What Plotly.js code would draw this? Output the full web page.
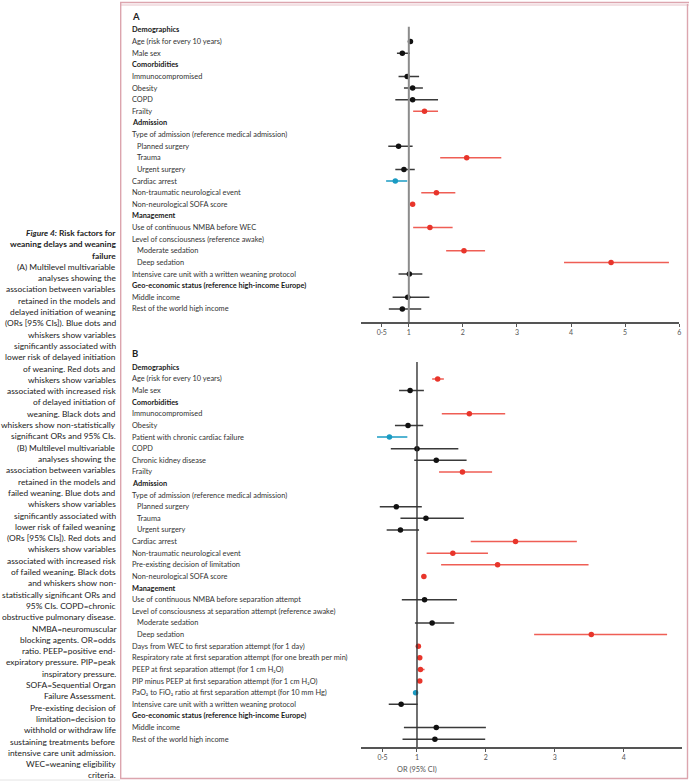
<!DOCTYPE html>
<html>
<head>
<meta charset="utf-8">
<script src="https://cdn.plot.ly/plotly-3.0.1.min.js"></script>
<style>html,body{margin:0;padding:0;background:#fff;}#chart{width:693px;height:782px;}</style>
</head>
<body>
<div id="chart"></div>
<script>
// ---------- Panel A data (delayed initiation of weaning) ----------
const labelsA = [
  "Demographics",
  "Age (risk for every 10 years)",
  "Male sex",
  "Comorbidities",
  "Immunocompromised",
  "Obesity",
  "COPD",
  "Frailty",
  "Admission",
  "Type of admission (reference medical admission)",
  "Planned surgery",
  "Trauma",
  "Urgent surgery",
  "Cardiac arrest",
  "Non-traumatic neurological event",
  "Non-neurological SOFA score",
  "Management",
  "Use of continuous NMBA before WEC",
  "Level of consciousness (reference awake)",
  "Moderate sedation",
  "Deep sedation",
  "Intensive care unit with a written weaning protocol",
  "Geo-economic status (reference high-income Europe)",
  "Middle income",
  "Rest of the world high income"
];
// h = section header, n = item, i = sub-item
const levelA = ["h","n","n","h","n","n","n","n","h","n","i","i","i","n","n","n","h","n","n","i","i","n","h","n","n"];
const orA = [null,1.03,0.88,null,0.97,1.07,1.07,1.29,null,null,0.81,2.07,0.91,0.75,1.51,1.07,null,1.39,null,2.02,4.74,1.01,null,0.98,0.88];
const loA = [null,1.00,0.78,null,0.81,0.91,0.75,1.08,null,null,0.62,1.58,0.75,0.58,1.23,1.05,null,1.08,null,1.69,3.87,0.81,null,0.70,0.63];
const hiA = [null,1.06,1.02,null,1.19,1.26,1.54,1.54,null,null,1.07,2.71,1.11,0.97,1.86,1.09,null,1.81,null,2.41,5.81,1.25,null,1.38,1.23];
// r = increased risk, b = lower risk, k = not significant
const sigA = [null,"k","k",null,"k","k","k","r",null,null,"k","r","k","b","r","r",null,"r",null,"r","r","k",null,"k","k"];
const tickValsA = [0.5,1,2,3,4,5,6];
const tickTextA = ["0·5","1","2","3","4","5","6"];

// ---------- Panel B data (failed weaning) ----------
const labelsB = [
  "Demographics",
  "Age (risk for every 10 years)",
  "Male sex",
  "Comorbidities",
  "Immunocompromised",
  "Obesity",
  "Patient with chronic cardiac failure",
  "COPD",
  "Chronic kidney disease",
  "Frailty",
  "Admission",
  "Type of admission (reference medical admission)",
  "Planned surgery",
  "Trauma",
  "Urgent surgery",
  "Cardiac arrest",
  "Non-traumatic neurological event",
  "Pre-existing decision of limitation",
  "Non-neurological SOFA score",
  "Management",
  "Use of continuous NMBA before separation attempt",
  "Level of consciousness at separation attempt (reference awake)",
  "Moderate sedation",
  "Deep sedation",
  "Days from WEC to first separation attempt (for 1 day)",
  "Respiratory rate at first separation attempt (for one breath per min)",
  "PEEP at first separation attempt (for 1 cm H₂O)",
  "PIP minus PEEP at first separation attempt (for 1 cm H₂O)",
  "PaO₂ to FiO₂ ratio at first separation attempt (for 10 mm Hg)",
  "Intensive care unit with a written weaning protocol",
  "Geo-economic status (reference high-income Europe)",
  "Middle income",
  "Rest of the world high income"
];
const levelB = ["h","n","n","h","n","n","n","n","n","n","h","n","i","i","i","n","n","n","n","h","n","n","i","i","n","n","n","n","n","n","h","n","n"];
const orB = [null,1.30,0.90,null,1.76,0.87,0.60,1.00,1.28,1.66,null,null,0.70,1.13,0.76,2.43,1.52,2.17,1.10,null,1.11,null,1.22,3.53,1.02,1.04,1.05,1.04,0.98,0.77,null,1.28,1.26];
const loB = [null,1.22,0.74,null,1.36,0.68,0.42,0.62,0.96,1.32,null,null,0.46,0.76,0.56,1.78,1.14,1.35,1.07,null,0.78,null,0.97,2.70,1.01,1.03,1.01,1.02,0.97,0.59,null,0.81,0.79];
const hiB = [null,1.39,1.10,null,2.28,1.09,0.86,1.60,1.72,2.09,null,null,1.07,1.68,1.03,3.32,2.03,3.49,1.13,null,1.58,null,1.54,4.63,1.04,1.05,1.11,1.06,0.99,1.01,null,2.00,1.99];
const sigB = [null,"r","k",null,"r","k","b","k","k","r",null,null,"k","k","k","r","r","r","r",null,"k",null,"k","r","r","r","r","r","b","k",null,"k","k"];
const tickValsB = [0.5,1,2,3,4];
const tickTextB = ["0·5","1","2","3","4"];

const captionLines = [
  "<b><i>Figure 4:</i> Risk factors for</b>",
  "<b>weaning delays and weaning</b>",
  "<b>failure</b>",
  "(A) Multilevel multivariable",
  "analyses showing the",
  "association between variables",
  "retained in the models and",
  "delayed initiation of weaning",
  "(ORs [95% CIs]). Blue dots and",
  "whiskers show variables",
  "significantly associated with",
  "lower risk of delayed initiation",
  "of weaning. Red dots and",
  "whiskers show variables",
  "associated with increased risk",
  "of delayed initiation of",
  "weaning. Black dots and",
  "whiskers show non-statistically",
  "significant ORs and 95% CIs.",
  "(B) Multilevel multivariable",
  "analyses showing the",
  "association between variables",
  "retained in the models and",
  "failed weaning. Blue dots and",
  "whiskers show variables",
  "significantly associated with",
  "lower risk of failed weaning",
  "(ORs [95% CIs]). Red dots and",
  "whiskers show variables",
  "associated with increased risk",
  "of failed weaning. Black dots",
  "and whiskers show non-",
  "statistically significant ORs and",
  "95% CIs. COPD=chronic",
  "obstructive pulmonary disease.",
  "NMBA=neuromuscular",
  "blocking agents. OR=odds",
  "ratio. PEEP=positive end-",
  "expiratory pressure. PIP=peak",
  "inspiratory pressure.",
  "SOFA=Sequential Organ",
  "Failure Assessment.",
  "Pre-existing decision of",
  "limitation=decision to",
  "withhold or withdraw life",
  "sustaining treatments before",
  "intensive care unit admission.",
  "WEC=weaning eligibility",
  "criteria."
];

// ---------- styling / layout ----------
const W = 693, H = 782;
const px = v => v / W;
const py = v => 1 - v / H;
const FONT = "Lato, 'Open Sans', sans-serif";
const colors = {
  r: {dot: "#e8352b", line: "#ef5e55"},
  b: {dot: "#1a9bc3", line: "#1a9bc3"},
  k: {dot: "#111111", line: "#3a3a3a"}
};

function panelTraces(orv, lo, hi, sig, xa, ya) {
  const out = [];
  ["k","r","b"].forEach(c => {
    const xs = [], ys = [], ep = [], em = [];
    orv.forEach((v, i) => {
      if (v !== null && sig[i] === c) {
        xs.push(v); ys.push(i); ep.push(hi[i] - v); em.push(v - lo[i]);
      }
    });
    out.push({
      type: "scatter", mode: "markers", x: xs, y: ys, xaxis: xa, yaxis: ya,
      marker: {color: colors[c].dot, size: 5.5},
      error_x: {type: "data", symmetric: false, array: ep, arrayminus: em,
                color: colors[c].line, thickness: 1.5, width: 0},
      hoverinfo: "skip", showlegend: false, cliponaxis: false
    });
  });
  return out;
}

const data = [
  ...panelTraces(orA, loA, hiA, sigA, "x", "y"),
  ...panelTraces(orB, loB, hiB, sigB, "x2", "y2")
];

const annotations = [];
function rowLabels(labels, level, yref) {
  labels.forEach((t, i) => {
    const lv = level[i];
    annotations.push({
      xref: "paper", yref: yref, x: px(lv === "i" ? 134.5 : 129.5), y: i,
      xanchor: "left", yanchor: "middle", showarrow: false,
      text: lv === "h" ? "<b>" + t + "</b>" : t,
      font: {family: FONT, size: 7.4, color: lv === "h" ? "#1a1a1a" : "#333333"}
    });
  });
}
rowLabels(labelsA, levelA, "y");
rowLabels(labelsB, levelB, "y2");

annotations.push({xref: "paper", yref: "paper", x: px(129.5), y: py(16.5), xanchor: "left", yanchor: "middle",
  showarrow: false, text: "<b>A</b>", font: {family: FONT, size: 9.5, color: "#222"}});
annotations.push({xref: "paper", yref: "paper", x: px(129.5), y: py(353.5), xanchor: "left", yanchor: "middle",
  showarrow: false, text: "<b>B</b>", font: {family: FONT, size: 9.5, color: "#222"}});
annotations.push({xref: "x2", yref: "paper", x: 1, y: py(769.5), xanchor: "center", yanchor: "middle",
  showarrow: false, text: "OR (95% CI)", font: {family: FONT, size: 7.4, color: "#555"}});

captionLines.forEach((t, i) => {
  annotations.push({xref: "paper", yref: "paper", x: px(117.5), y: py(233 + i * 11.3),
    xanchor: "right", yanchor: "middle", showarrow: false, text: t,
    font: {family: FONT, size: 8.4, color: "#222"}});
});

const pink = "#dca5ae";
const shapes = [
  // reference lines at OR = 1
  {type: "line", xref: "x", yref: "y", x0: 1, x1: 1, y0: -0.28, y1: 25.12, line: {color: "#8c8c8c", width: 2}},
  {type: "line", xref: "x2", yref: "y2", x0: 1, x1: 1, y0: -0.45, y1: 32.70, line: {color: "#333", width: 1.4}},
  // frame
  {type: "line", xref: "paper", yref: "paper", x0: px(120), x1: px(689), y0: py(2.5), y1: py(2.5), line: {color: pink, width: 1.5}},
  {type: "line", xref: "paper", yref: "paper", x0: px(120), x1: px(689), y0: py(5), y1: py(5), line: {color: "#e8c3c9", width: 1.2}},
  {type: "line", xref: "paper", yref: "paper", x0: px(120.7), x1: px(120.7), y0: py(2), y1: py(778.5), line: {color: pink, width: 1.4}},
  {type: "line", xref: "paper", yref: "paper", x0: px(687.5), x1: px(687.5), y0: py(4), y1: py(778.5), line: {color: pink, width: 1.4}},
  {type: "line", xref: "paper", yref: "paper", x0: px(120), x1: px(688), y0: py(778.5), y1: py(778.5), line: {color: pink, width: 1.4}},
  {type: "line", xref: "paper", yref: "paper", x0: px(0), x1: px(120), y0: py(780), y1: py(780), line: {color: "#e4e4e4", width: 1}}
];

const xCommon = {
  showgrid: false, zeroline: false, showline: true, linecolor: "#555", linewidth: 1.5,
  ticks: "outside", ticklen: 3, tickwidth: 1, tickcolor: "#555",
  tickmode: "array",
  tickfont: {family: FONT, size: 7, color: "#555"}, fixedrange: true
};
const yCommon = {visible: false, showgrid: false, zeroline: false, fixedrange: true};

const layout = {
  width: W, height: H,
  margin: {l: 0, r: 0, t: 0, b: 0, pad: 0},
  paper_bgcolor: "#fff", plot_bgcolor: "rgba(0,0,0,0)",
  showlegend: false,
  xaxis: Object.assign({}, xCommon, {domain: [px(360.7), px(679.2)], range: [0.11, 6.0], anchor: "y",
    tickvals: tickValsA, ticktext: tickTextA}),
  yaxis: Object.assign({}, yCommon, {domain: [py(322), py(20)], range: [25.12, -0.86], anchor: "x"}),
  xaxis2: Object.assign({}, xCommon, {domain: [px(360.7), px(681.7)], range: [0.183, 4.842], anchor: "y2",
    tickvals: tickValsB, ticktext: tickTextB}),
  yaxis2: Object.assign({}, yCommon, {domain: [py(747.3), py(357)], range: [32.70, -0.886], anchor: "x2"}),
  annotations: annotations,
  shapes: shapes,
  font: {family: FONT}
};

Plotly.newPlot("chart", data, layout, {displayModeBar: false, staticPlot: true});
</script>
</body>
</html>
